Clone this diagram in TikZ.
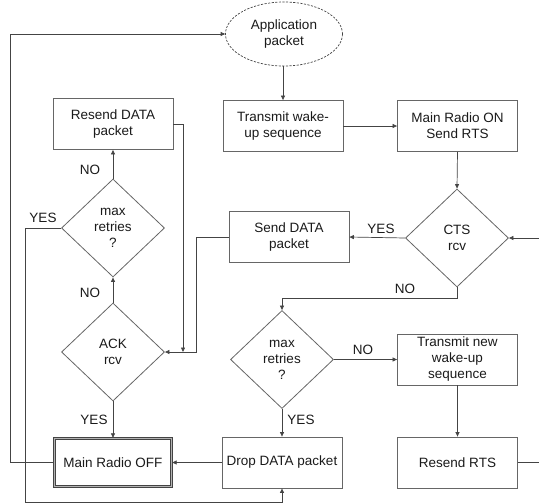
\documentclass[tikz,border=0pt]{standalone}
\usepackage{fontspec}
\setmainfont{Liberation Sans}
\usetikzlibrary{shapes.geometric,arrows.meta}
\definecolor{linec}{HTML}{444444}
\definecolor{boxc}{HTML}{666666}
\definecolor{txtc}{HTML}{1A1A1A}
\tikzset{
  every node/.style={font=\fontsize{13.5}{16}\selectfont, text=txtc},
  procbox/.style={draw=boxc, line width=0.8pt, rectangle, minimum width=120pt, minimum height=51pt, align=center, inner sep=2pt},
  endbox/.style={procbox, draw=linec, line width=1.3pt, double=gray!60, double distance=0.9pt, minimum width=117pt, minimum height=48pt},
  decision/.style={draw=boxc, line width=0.8pt, diamond, minimum width=103pt, minimum height=98pt, inner sep=0pt, align=center},
  startnode/.style={draw=linec, dash pattern=on 2.2pt off 1.4pt, line width=0.7pt, ellipse, minimum width=117pt, minimum height=64pt, align=center, inner sep=0pt},
  conn/.style={draw=linec, line width=0.7pt},
  arr/.style={conn, -{Triangle[length=4.5pt,width=4pt]}},
  lbl/.style={inner sep=1pt}
}
\begin{document}
\begin{tikzpicture}[x=1pt, y=-1pt]
\useasboundingbox (0,0) rectangle (539,504);

% process steps
\node[startnode] (app)  at (284,34)    {Application\\packet};
\node[procbox]   (tws)  at (283,126)   {Transmit wake-\\up sequence};
\node[procbox]   (mron) at (457.5,126) {Main Radio ON\\Send RTS};
\node[decision]  (cts)  at (457,238)   {CTS\\rcv};
\node[procbox]   (sdp)  at (289,237)   {Send DATA\\packet};
\node[procbox]   (rdp)  at (113,124)   {Resend DATA\\packet};
\node[decision]  (mr1)  at (113,228)   {max\\retries\\?};
\node[decision]  (ack)  at (113,352)   {ACK\\rcv};
\node[decision]  (mr2)  at (282,359.5) {max\\retries\\?};
\node[procbox]   (twn)  at (457.5,359.5) {Transmit new\\wake-up\\sequence};
\node[endbox]    (moff) at (113,462.5) {Main Radio OFF};
\node[procbox]   (ddp)  at (282,462.5) {Drop DATA packet};
\node[procbox]   (rrts) at (457.5,462.5) {Resend RTS};

% loose ends at the right border
\coordinate (inR)  at (539,238);
\coordinate (outR) at (539,462.5);
\coordinate (joinA) at (183,352);

% connectors
\draw[arr] (moff.west) -- ++(-44,0) |- (app.west);
\draw[arr] (app.south -| tws.north) -- (tws.north);
\draw[arr] (tws.east) -- (mron.west);
\draw[arr] (mron.south) -- (cts.north);
\draw[arr] (inR) -- (cts.east);
\draw[arr] (cts.west) -- (sdp.east);
\draw[arr] (cts.south) -- ++(0,11) -| (mr2.north);
\draw[arr] (mr2.east) -- (twn.west);
\draw[arr] (twn.south) -- (rrts.north);
\draw[conn] (rrts.east) -- (outR);
\draw[arr] (mr2.south) -- (ddp.north);
\draw[arr] (ddp.west) -- (moff.east);
\draw[arr] (sdp.west) -- ++(-32,0) |- (ack.east);
\draw[arr] (rdp.east) -| (joinA);
\draw[arr] (ack.north) -- (mr1.south);
\draw[arr] (mr1.north) -- (rdp.south);
\draw[arr] (ack.south) -- (moff.north);
\draw[arr] (mr1.west) -- ++(-36,0) -- ++(0,274) -| (ddp.south);

% branch labels
\node[lbl] (l1) at (90,170)  {NO};
\node[lbl] (l2) at (90,293)  {NO};
\node[lbl] (l3) at (94,420)  {YES};
\node[lbl] (l4) at (43,218)  {YES};
\node[lbl] (l5) at (381,229) {YES};
\node[lbl] (l6) at (405,289) {NO};
\node[lbl] (l7) at (363,350) {NO};
\node[lbl] (l8) at (301,420) {YES};
\end{tikzpicture}
\end{document}
